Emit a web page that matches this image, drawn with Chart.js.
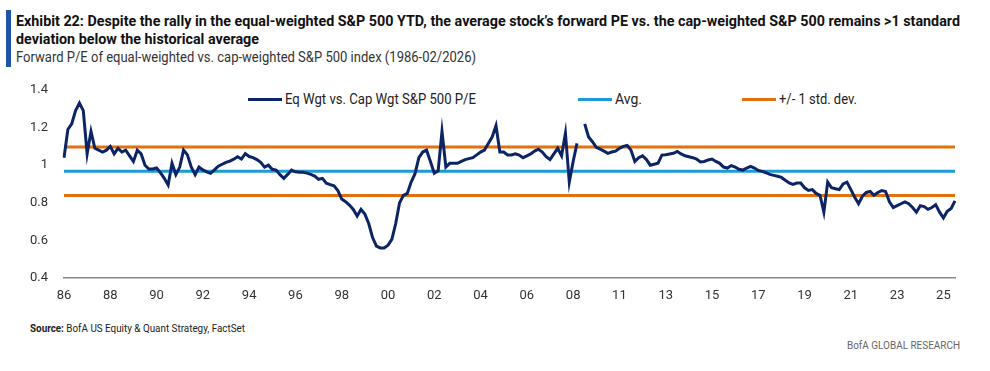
<!DOCTYPE html>
<html>
<head>
<meta charset="utf-8">
<script src="https://cdn.jsdelivr.net/npm/chart.js@4"></script>
<style>
  body { margin: 0; background: #fff; }
  #page { position: relative; width: 990px; height: 371px; overflow: hidden; font-family: Roboto, 'Noto Sans', sans-serif; }
  #bar { position: absolute; left: 6px; top: 10px; width: 5px; height: 57px; background: #1f55a8; }
  .fit { position: absolute; white-space: nowrap; transform-origin: 0 50%; }
  .title { font-weight: bold; font-size: 14px; color: #111; }
  #t1 { left: 16px; top: 13px; }
  #t2 { left: 16px; top: 31px; }
  #subtitle { left: 16px; top: 49px; font-size: 14px; color: #333; }
  #legend .item { position: absolute; top: 91px; font-size: 14px; color: #222; white-space: nowrap; display: flex; align-items: center; }
  #legend .swatch { display: inline-block; width: 34px; height: 3px; margin-right: 3px; }
  #legend .txt { display: inline-block; transform-origin: 0 50%; }
  #chartBox { position: absolute; left: 0; top: 80px; }
  #source { left: 30px; top: 322px; font-size: 11px; color: #222; }
  #brand { left: 847px; top: 339px; font-size: 11px; color: #666; }
</style>
</head>
<body>
<div id="page">
  <div id="bar"></div>
  <div id="t1" class="fit title" data-w="944">Exhibit 22: Despite the rally in the equal-weighted S&amp;P 500 YTD, the average stock’s forward PE vs. the cap-weighted S&amp;P 500 remains &gt;1 standard</div>
  <div id="t2" class="fit title" data-w="243">deviation below the historical average</div>
  <div id="subtitle" class="fit" data-w="460">Forward P/E of equal-weighted vs. cap-weighted S&amp;P 500 index (1986-02/2026)</div>
  <div id="legend"></div>
  <div id="chartBox"><canvas id="chart" width="970" height="230"></canvas></div>
  <div id="source" class="fit" data-w="215"><b>Source:</b> BofA US Equity &amp; Quant Strategy, FactSet</div>
  <div id="brand" class="fit" data-w="113">BofA GLOBAL RESEARCH</div>
</div>
<script>
// x-axis tick labels (one every 12 observations)
const tickLabels = ['86','88','90','92','94','96','98','00','02','04','06','08','11','13','15','17','19','21','23','25'];
const obsPerTick = 12;

// Eq Wgt vs. Cap Wgt S&P 500 P/E ratio
const ratio = [
  1.04,1.19,1.22,1.29,1.33,1.29,1.06,1.18,1.09,1.08,
  1.07,1.08,1.10,1.06,1.09,1.07,1.08,1.05,1.02,1.08,
  1.06,1.00,0.98,0.98,0.985,0.96,0.93,0.895,1.01,0.95,
  0.99,1.08,1.055,0.99,0.95,0.99,0.975,0.965,0.957,0.975,
  0.995,1.005,1.015,1.022,1.032,1.045,1.033,1.062,1.046,1.04,
  1.03,1.015,0.99,1.0,0.978,0.974,0.95,0.93,0.951,0.974,
  0.965,0.962,0.962,0.958,0.951,0.942,0.925,0.93,0.904,0.897,
  0.89,0.865,0.82,0.806,0.788,0.765,0.73,0.765,0.74,0.69,
  0.615,0.57,0.56,0.56,0.575,0.605,0.69,0.8,0.84,0.85,
  0.91,0.955,1.04,1.07,1.08,1.02,0.957,0.97,1.18,0.99,
  1.01,1.01,1.01,1.02,1.03,1.035,1.04,1.055,1.07,1.08,
  1.115,1.15,1.21,1.07,1.07,1.054,1.054,1.06,1.054,1.04,
  1.05,1.06,1.075,1.085,1.07,1.045,1.03,1.06,1.09,1.05,
  1.17,0.91,1.02,1.116,null,1.22,1.15,1.125,1.095,1.085,
  1.075,1.063,1.07,1.075,1.09,1.10,1.105,1.08,1.02,1.04,
  1.05,1.03,1.0,1.005,1.01,1.054,1.056,1.06,1.063,1.073,
  1.06,1.05,1.045,1.04,1.033,1.017,1.02,1.028,1.033,1.02,
  1.01,0.99,0.985,0.998,0.99,0.978,0.974,0.985,0.994,0.985,
  0.972,0.967,0.96,0.951,0.946,0.941,0.935,0.92,0.906,0.898,
  0.905,0.905,0.88,0.866,0.87,0.85,0.84,0.75,0.91,0.88,
  0.875,0.87,0.9,0.91,0.87,0.83,0.795,0.835,0.855,0.86,
  0.84,0.855,0.865,0.86,0.805,0.775,0.785,0.795,0.805,0.795,
  0.775,0.75,0.785,0.78,0.765,0.775,0.79,0.75,0.72,0.755,
  0.77,0.81
];

// reference levels
const avgLevel = 0.968;
const upperLevel = 1.097;
const lowerLevel = 0.839;

const NAVY = '#0b2466';
const BLUE = '#1b9bd7';
const ORANGE = '#e2700e';

// one category per observation, labelled only where a tick label falls
const categories = ratio.map((_, i) => (i % obsPerTick === 0 ? (tickLabels[i / obsPerTick] || '') : ''));

const flat = v => ratio.map(() => v);

const datasets = [
  { label: 'Eq Wgt vs. Cap Wgt S&P 500 P/E', data: ratio, borderColor: NAVY, borderWidth: 3 },
  { label: 'Avg.', data: flat(avgLevel), borderColor: BLUE, borderWidth: 3 },
  { label: '+/- 1 std. dev.', data: flat(upperLevel), borderColor: ORANGE, borderWidth: 3 },
  { label: '', data: flat(lowerLevel), borderColor: ORANGE, borderWidth: 3 }
];

// html legend
const legendPos = [248, 578, 742];
const legendTextW = [191, 27, 78];
const legend = document.getElementById('legend');
datasets.slice(0, 3).forEach((ds, i) => {
  const item = document.createElement('div');
  item.className = 'item';
  item.style.left = legendPos[i] + 'px';
  item.innerHTML = '<span class="swatch" style="background:' + ds.borderColor + '"></span><span class="txt" data-w="' + legendTextW[i] + '"></span>';
  item.querySelector('.txt').textContent = ds.label;
  legend.appendChild(item);
});

// squeeze text to the widths of the reference (its typeface is condensed)
document.querySelectorAll('[data-w]').forEach(el => {
  const w = el.getBoundingClientRect().width;
  el.style.transform = 'scaleX(' + (el.dataset.w / w) + ')';
});

const fontFamily = "Roboto, 'Noto Sans', sans-serif";

new Chart(document.getElementById('chart'), {
  type: 'line',
  data: { labels: categories, datasets: datasets },
  options: {
    responsive: false,
    animation: false,
    layout: { padding: { top: 10, right: 15, left: 0, bottom: 0 } },
    elements: { point: { radius: 0 }, line: { tension: 0 } },
    plugins: { legend: { display: false }, tooltip: { enabled: false } },
    scales: {
      x: {
        grid: { display: false, drawTicks: false },
        border: { display: true, color: '#8a8a8a', width: 1.5 },
        ticks: { autoSkip: false, maxRotation: 0, padding: 10, color: '#333', font: { family: fontFamily, size: 13 } },
        afterFit: s => { s.height = 32; s.paddingLeft = 0; s.paddingRight = 0; }
      },
      y: {
        min: 0.4,
        max: 1.4,
        grid: { display: false, drawTicks: false },
        border: { display: false },
        ticks: {
          stepSize: 0.2, padding: 16, color: '#333',
          font: { family: fontFamily, size: 13 },
          callback: v => String(+v.toFixed(1))
        },
        afterFit: s => { s.width = 64; s.paddingTop = 0; s.paddingBottom = 0; }
      }
    }
  }
});
</script>
</body>
</html>
